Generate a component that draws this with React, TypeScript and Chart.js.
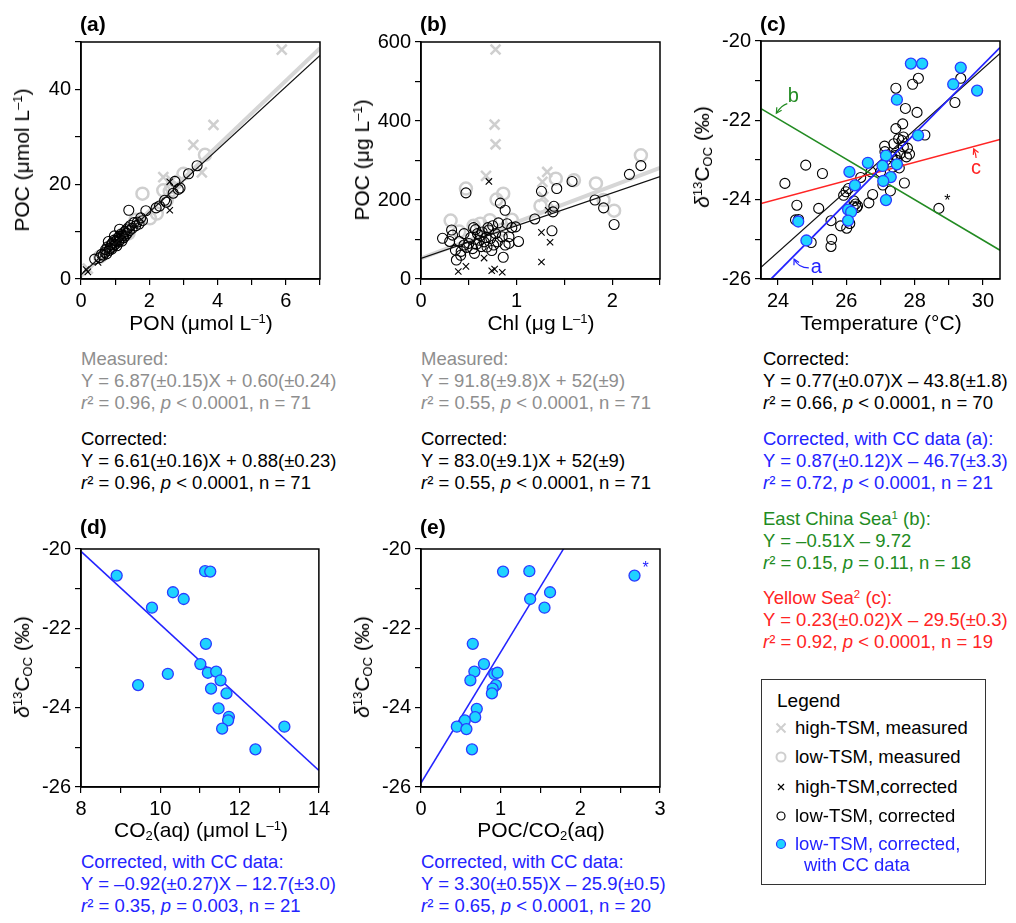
import React, { useEffect, useRef } from "react";
import { Chart, registerables } from "chart.js";
Chart.register(...registerables);

const FONT = '"Liberation Sans", Arial, Helvetica, sans-serif';

// ---------- DATA ----------
type P = [number, number];

// (a) PON vs POC
const aHighMeasured: P[] = [[5.88, 48.4], [3.88, 32.5], [3.29, 28.3], [3.54, 22.5], [2.41, 21.5], [0.2, 2.2], [2.65, 20.8]];
const aLowMeasured: P[] = [[1.8, 18.0], [3.63, 26.2], [2.41, 18.7], [2.8, 20.4], [2.22, 13.8], [2.02, 12.8], [2.51, 16.6], [1.39, 9.6], [1.05, 8.2], [0.56, 4.7], [3.0, 22.2], [1.6, 12.5], [1.2, 9.3], [0.85, 6.6], [2.6, 18.5], [2.65, 19.4]];
const aHighCorrected: P[] = [[2.6, 20.5], [2.6, 14.5], [0.2, 1.5], [0.5, 3.5], [0.15, 2.0], [1.0, 7.5], [1.1, 9.5]];
const aLowCorrected: P[] = [[0.4, 4.2], [0.55, 4.5], [0.6, 5.2], [0.65, 5.0], [0.7, 5.6], [0.72, 6.2], [0.75, 5.3], [0.78, 6.8], [0.8, 7.9], [0.82, 6.0], [0.85, 6.5], [0.88, 7.2], [0.9, 6.3], [0.92, 7.6], [0.95, 6.9], [0.97, 8.2], [1.0, 7.3], [1.02, 8.0], [1.05, 7.0], [1.08, 8.6], [1.1, 7.8], [1.12, 9.0], [1.15, 8.3], [1.18, 9.5], [1.2, 8.0], [1.22, 9.2], [1.25, 8.7], [1.28, 10.0], [1.3, 9.1], [1.33, 10.4], [1.35, 9.6], [1.38, 10.8], [1.4, 14.5], [1.42, 10.2], [1.45, 11.3], [1.5, 10.7], [1.55, 11.9], [1.6, 11.2], [1.65, 12.0], [1.7, 11.6], [1.75, 12.9], [1.8, 12.3], [1.9, 14.4], [2.2, 15.0], [2.3, 15.4], [2.45, 16.6], [2.5, 16.2], [2.7, 18.1], [2.75, 20.6], [2.85, 18.9], [2.9, 19.2], [3.15, 22.2], [3.4, 23.9], [1.13, 10.5], [0.98, 9.1]];
const aFitMeasured = { slope: 6.87, intercept: 0.6 };
const aFitCorrected = { slope: 6.61, intercept: 0.88 };
const aXTicks = [0, 1, 2, 3, 4, 5, 6, 7];
const aXLabels = [0, 2, 4, 6];
const aYTicks = [0, 10, 20, 30, 40, 50];
const aYLabels = [0, 20, 40];

// (b) Chl vs POC
const bHighMeasured: P[] = [[0.78, 581], [0.77, 391], [0.78, 341], [0.68, 261], [1.32, 271], [1.27, 246], [1.4, 179], [1.28, 208]];
const bLowMeasured: P[] = [[0.31, 148], [0.47, 229], [0.86, 216], [1.41, 254], [1.6, 250], [1.83, 242], [2.3, 313], [2.02, 173], [1.91, 200], [0.79, 201], [0.72, 149], [0.55, 135], [0.62, 140], [0.95, 150], [1.25, 185], [0.4, 120], [0.85, 125]];
const bHighCorrected: P[] = [[0.39, 19], [0.47, 32], [0.71, 247], [0.74, 21], [0.77, 25], [0.85, 17], [0.66, 53], [1.26, 43], [1.26, 118], [1.35, 93], [1.33, 174]];
const bLowCorrected: P[] = [[0.47, 218], [0.83, 192], [0.88, 174], [1.19, 152], [1.26, 222], [1.42, 229], [1.58, 247], [2.18, 265], [2.3, 287], [1.82, 200], [1.91, 180], [2.02, 138], [1.37, 122], [1.39, 184], [1.38, 170], [0.99, 132], [1.02, 95], [0.86, 55], [0.32, 124], [0.33, 111], [0.225, 103], [0.45, 115], [0.57, 125], [0.59, 115], [0.64, 119], [0.71, 124], [0.81, 142], [0.85, 107], [0.9, 140], [0.92, 107], [0.36, 73], [0.37, 48], [0.415, 60], [0.45, 86], [0.5, 90], [0.54, 77], [0.61, 98], [0.66, 94], [0.69, 81], [0.73, 103], [0.76, 86], [0.8, 94], [0.88, 86], [0.4, 95], [0.52, 105], [0.55, 130], [0.62, 110], [0.68, 105], [0.74, 72], [0.78, 115], [0.92, 90], [0.95, 130], [0.42, 70], [0.56, 65], [0.63, 82], [0.7, 130], [0.3, 95], [0.48, 80], [0.58, 88], [0.75, 135]];
const bFitMeasured = { slope: 91.8, intercept: 52 };
const bFitCorrected = { slope: 83.0, intercept: 52 };
const bXTicks = [0, 0.5, 1, 1.5, 2, 2.5];
const bXLabels = [0, 1, 2];
const bYTicks = [0, 100, 200, 300, 400, 500, 600];
const bYLabels = [0, 200, 400, 600];

// (c) Temperature vs d13C
const cLowCorrected: P[] = [[24.2, -23.59], [24.81, -23.13], [25.3, -23.34], [24.55, -24.14], [24.51, -24.51], [25.19, -24.22], [24.97, -25.08], [25.57, -25.0], [25.55, -25.18], [25.55, -24.53], [25.83, -24.66], [26.01, -24.72], [25.99, -23.8], [25.92, -23.89], [26.06, -23.72], [26.22, -24.03], [26.27, -24.11], [26.33, -24.16], [26.2, -24.18], [26.42, -23.44], [26.66, -24.08], [26.77, -23.87], [26.72, -23.3], [27.12, -22.65], [27.13, -22.79], [27.07, -23.63], [27.29, -23.78], [27.34, -22.92], [27.43, -22.89], [27.45, -22.21], [27.39, -22.59], [27.53, -22.47], [27.63, -22.51], [27.67, -22.67], [27.67, -22.42], [27.76, -22.92], [27.79, -22.7], [27.45, -21.19], [27.73, -21.7], [27.65, -22.09], [27.7, -23.58], [27.94, -21.09], [28.11, -20.94], [28.07, -21.8], [28.3, -22.37], [27.36, -23.18], [27.48, -23.01], [27.58, -22.84], [28.71, -24.22], [29.18, -21.55], [29.35, -20.94], [27.25, -23.05], [27.55, -23.2], [26.1, -24.6], [26.3, -24.2], [24.6, -24.5], [27.0, -23.3], [27.85, -22.85]];
const cCC: P[] = [[27.89, -20.57], [28.22, -20.57], [29.35, -20.67], [29.13, -21.09], [29.83, -21.25], [27.48, -21.48], [28.1, -22.38], [27.16, -22.89], [26.63, -23.07], [27.06, -23.15], [27.48, -23.11], [26.09, -23.3], [27.3, -23.43], [27.08, -23.53], [26.25, -23.64], [27.16, -24.01], [26.05, -24.25], [26.14, -24.31], [26.05, -24.53], [24.59, -24.55], [24.83, -25.03]];
const cFitCorrected = { slope: 0.77, intercept: -43.8 };
const cFitCC = { slope: 0.87, intercept: -46.7 };
const cFitECS = { slope: -0.51, intercept: -9.72 };
const cFitYS = { slope: 0.23, intercept: -29.5 };
const cXTicks = [24, 25, 26, 27, 28, 29, 30];
const cXLabels = [24, 26, 28, 30];
const dYTicks = [-26, -25, -24, -23, -22, -21, -20];
const dYLabels = [-26, -24, -22, -20];

// (d) CO2(aq) vs d13C
const dCC: P[] = [[8.9, -20.67], [11.13, -20.56], [11.26, -20.57], [10.32, -21.09], [10.59, -21.26], [9.79, -21.48], [11.15, -22.39], [11.01, -22.9], [10.19, -23.15], [11.2, -23.12], [11.41, -23.09], [11.52, -23.31], [11.28, -23.52], [9.44, -23.43], [11.67, -23.64], [11.47, -24.02], [11.73, -24.23], [11.71, -24.32], [11.56, -24.53], [13.13, -24.48], [12.4, -25.05]];
const dFit = { slope: -0.92, intercept: -12.7 };
const dXTicks = [8, 9, 10, 11, 12, 13, 14];
const dXLabels = [8, 10, 12, 14];

// (e) POC/CO2(aq) vs d13C
const eCC: P[] = [[1.03, -20.57], [1.36, -20.56], [2.68, -20.67], [1.62, -21.09], [1.37, -21.26], [1.55, -21.48], [0.65, -22.39], [0.79, -22.9], [0.67, -23.09], [0.62, -23.31], [0.92, -23.15], [0.96, -23.12], [0.94, -23.43], [0.9, -23.52], [0.89, -23.64], [0.7, -24.03], [0.68, -24.24], [0.55, -24.32], [0.45, -24.48], [0.57, -24.54], [0.64, -25.05]];
const eFit = { slope: 3.3, intercept: -25.9 };
const eXTicks = [0, 0.5, 1, 1.5, 2, 2.5, 3];
const eXLabels = [0, 1, 2, 3];

// ---------- STYLES ----------
const GRAY_MK = "#cfcfcf";
const GRAY_TXT = "#8e8e8e";
const BLUE = "#2323ff";
const CYAN = "#1ed3ff";
const GREEN = "#228b22";
const RED = "#ff2424";

const PADL = 75, PADT = 15, PADR = 14, PADB = 45, PW = 239;

const xy = (arr: P[]) => arr.map(([x, y]) => ({ x, y }));
const fitLine = (f: { slope: number; intercept: number }, x0: number, x1: number) => [
  { x: x0, y: f.slope * x0 + f.intercept },
  { x: x1, y: f.slope * x1 + f.intercept },
];

const grayX = (d: P[]) => ({ data: xy(d), pointStyle: "crossRot", pointRadius: 7, pointBorderWidth: 2.5, pointBorderColor: GRAY_MK, borderColor: GRAY_MK, pointBackgroundColor: "rgba(0,0,0,0)", showLine: false, order: 10 });
const grayO = (d: P[]) => ({ data: xy(d), pointStyle: "circle", pointRadius: 6, pointBorderWidth: 2.5, pointBorderColor: GRAY_MK, borderColor: GRAY_MK, pointBackgroundColor: "rgba(0,0,0,0)", showLine: false, order: 10 });
const blackX = (d: P[]) => ({ data: xy(d), pointStyle: "crossRot", pointRadius: 4.5, pointBorderWidth: 1.1, pointBorderColor: "#000", borderColor: "#000", pointBackgroundColor: "rgba(0,0,0,0)", showLine: false, order: 3 });
const blackO = (d: P[]) => ({ data: xy(d), pointStyle: "circle", pointRadius: 5, pointBorderWidth: 1.1, pointBorderColor: "#000", borderColor: "#000", pointBackgroundColor: "rgba(0,0,0,0)", showLine: false, order: 3 });
const cyanO = (d: P[]) => ({ data: xy(d), pointStyle: "circle", pointRadius: 5.5, pointBorderWidth: 1.3, pointBorderColor: "#2a3cff", borderColor: "#2a3cff", pointBackgroundColor: CYAN, backgroundColor: CYAN, showLine: false, order: 0 });
const line = (pts: { x: number; y: number }[], color: string, width: number, order: number) => ({ data: pts, showLine: true, pointRadius: 0, borderColor: color, borderWidth: width, order, fill: false });

const annotPlugin = {
  id: "annot",
  afterDatasetsDraw(chart: any, _args: any, opts: any) {
    const items = (opts && opts.items) || [];
    const { ctx } = chart;
    const xs = chart.scales.x, ys = chart.scales.y;
    ctx.save();
    for (const it of items) {
      if (it.kind === "text") {
        ctx.fillStyle = it.color;
        ctx.font = `${it.size}px ${FONT}`;
        ctx.textAlign = "center";
        ctx.textBaseline = "middle";
        ctx.fillText(it.text, xs.getPixelForValue(it.x), ys.getPixelForValue(it.y));
      } else if (it.kind === "arrow") {
        const p = it.pts.map(([a, b]: P) => [xs.getPixelForValue(a), ys.getPixelForValue(b)]);
        ctx.strokeStyle = it.color;
        ctx.lineWidth = 1.2;
        ctx.beginPath();
        ctx.moveTo(p[0][0], p[0][1]);
        ctx.quadraticCurveTo(p[1][0], p[1][1], p[2][0], p[2][1]);
        ctx.stroke();
        const ang = Math.atan2(p[2][1] - p[1][1], p[2][0] - p[1][0]);
        const L = 6;
        ctx.beginPath();
        ctx.moveTo(p[2][0] - L * Math.cos(ang - 0.5), p[2][1] - L * Math.sin(ang - 0.5));
        ctx.lineTo(p[2][0], p[2][1]);
        ctx.lineTo(p[2][0] - L * Math.cos(ang + 0.5), p[2][1] - L * Math.sin(ang + 0.5));
        ctx.stroke();
      }
    }
    ctx.restore();
  },
};

const framePlugin = {
  id: "frame",
  afterDraw(chart: any) {
    const { ctx, chartArea: a } = chart;
    ctx.save();
    ctx.strokeStyle = "#000";
    ctx.lineWidth = 1.5;
    ctx.strokeRect(a.left, a.top, a.right - a.left, a.bottom - a.top);
    ctx.restore();
  },
};

function axis(min: number, max: number, tickVals: number[], labelVals: number[], isX: boolean) {
  return {
    type: "linear",
    position: isX ? "bottom" : "left",
    min,
    max,
    afterBuildTicks: (s: any) => {
      s.ticks = tickVals.map((v) => ({ value: v }));
    },
    ticks: {
      autoSkip: false,
      maxRotation: 0,
      color: "#000",
      padding: 4,
      font: { family: FONT, size: 20 },
      callback: (v: number) => (labelVals.some((l) => Math.abs(l - v) < 1e-9) ? String(v) : ""),
    },
    grid: { display: true, drawOnChartArea: false, drawTicks: true, tickLength: 6, color: "#000", lineWidth: 1.2 },
    border: { display: true, color: "#000", width: 1.5 },
    afterFit: (s: any) => {
      if (isX) s.height = PADB;
      else s.width = PADL;
    },
  };
}

type PanelCfg = {
  left: number; top: number; h: number;
  x: [number, number, number[], number[]];
  y: [number, number, number[], number[]];
  datasets: any[];
  annots?: any[];
};

function Panel({ cfg }: { cfg: PanelCfg }) {
  const ref = useRef<HTMLCanvasElement>(null);
  const CW = PADL + PW + PADR;
  const CH = PADT + cfg.h + PADB;
  useEffect(() => {
    const chart = new Chart(ref.current as HTMLCanvasElement, {
      type: "scatter",
      data: { datasets: cfg.datasets },
      options: {
        responsive: false,
        animation: false,
        events: [],
        layout: { padding: { top: PADT, right: PADR, left: 0, bottom: 0 } },
        plugins: { legend: { display: false }, tooltip: { enabled: false }, annot: { items: cfg.annots || [] } },
        scales: {
          x: axis(cfg.x[0], cfg.x[1], cfg.x[2], cfg.x[3], true),
          y: axis(cfg.y[0], cfg.y[1], cfg.y[2], cfg.y[3], false),
        },
      } as any,
      plugins: [annotPlugin, framePlugin],
    } as any);
    return () => chart.destroy();
  }, []);
  return (
    <canvas
      ref={ref}
      width={CW}
      height={CH}
      style={{ position: "absolute", left: cfg.left - 8 - PADL, top: cfg.top - 8 - PADT, width: CW, height: CH }}
    />
  );
}

const panels: PanelCfg[] = [
  {
    left: 81, top: 41, h: 238,
    x: [0, 7, aXTicks, aXLabels], y: [0, 50, aYTicks, aYLabels],
    datasets: [
      grayX(aHighMeasured), grayO(aLowMeasured),
      line(fitLine(aFitMeasured, 0, 7), "#d6d6d6", 4, 8),
      blackX(aHighCorrected), blackO(aLowCorrected),
      line(fitLine(aFitCorrected, 0, 7), "#111", 1.2, 1),
    ],
  },
  {
    left: 421, top: 41, h: 238,
    x: [0, 2.5, bXTicks, bXLabels], y: [0, 600, bYTicks, bYLabels],
    datasets: [
      grayX(bHighMeasured), grayO(bLowMeasured),
      line(fitLine(bFitMeasured, 0, 2.5), "#d6d6d6", 4, 8),
      blackX(bHighCorrected), blackO(bLowCorrected),
      line(fitLine(bFitCorrected, 0, 2.5), "#111", 1.2, 1),
    ],
  },
  {
    left: 761, top: 40, h: 239,
    x: [23.5, 30.5, cXTicks, cXLabels], y: [-26, -20, dYTicks, dYLabels],
    datasets: [
      blackO(cLowCorrected),
      line(fitLine(cFitECS, 23.5, 30.5), GREEN, 1.5, 2),
      line(fitLine(cFitYS, 23.5, 30.5), RED, 1.5, 2),
      line(fitLine(cFitCorrected, 23.5, 30.5), "#111", 1.2, 2),
      line(fitLine(cFitCC, 23.5, 30.5), BLUE, 1.8, 1),
      cyanO(cCC),
    ],
    annots: [
      { kind: "text", text: "b", x: 24.45, y: -21.4, color: GREEN, size: 20 },
      { kind: "arrow", pts: [[24.27, -21.58], [24.1, -21.62], [23.95, -21.82]], color: GREEN },
      { kind: "text", text: "c", x: 29.8, y: -23.22, color: RED, size: 20 },
      { kind: "arrow", pts: [[29.8, -22.95], [29.8, -22.85], [29.73, -22.72]], color: RED },
      { kind: "text", text: "a", x: 25.12, y: -25.72, color: BLUE, size: 20 },
      { kind: "arrow", pts: [[24.9, -25.72], [24.6, -25.72], [24.47, -25.5]], color: BLUE },
      { kind: "text", text: "*", x: 28.96, y: -24.06, color: "#000", size: 16 },
    ],
  },
  {
    left: 81, top: 548, h: 239,
    x: [8, 14, dXTicks, dXLabels], y: [-26, -20, dYTicks, dYLabels],
    datasets: [line(fitLine(dFit, 8, 14), BLUE, 1.5, 2), cyanO(dCC)],
  },
  {
    left: 421, top: 548, h: 239,
    x: [0, 3, eXTicks, eXLabels], y: [-26, -20, dYTicks, dYLabels],
    datasets: [line(fitLine(eFit, 0, 1.9), BLUE, 1.5, 2), cyanO(eCC)],
    annots: [{ kind: "text", text: "*", x: 2.82, y: -20.5, color: BLUE, size: 16 }],
  },
];

// ---------- HTML TEXT ----------
const Sup = ({ children }: any) => (
  <span style={{ fontSize: "0.62em", verticalAlign: "0.55em", lineHeight: 0 }}>{children}</span>
);
const Sub = ({ children }: any) => (
  <span style={{ fontSize: "0.62em", verticalAlign: "-0.2em", lineHeight: 0 }}>{children}</span>
);

const LH = 21.7;
function Block({ x, y, color, lines }: { x: number; y: number; color: string; lines: any[] }) {
  return (
    <div style={{ position: "absolute", left: x - 8, top: y - 8 - LH / 2, color, fontSize: 18.5, lineHeight: `${LH}px`, whiteSpace: "nowrap" }}>
      {lines.map((l, i) => (
        <div key={i}>{l}</div>
      ))}
    </div>
  );
}

function XTitle({ cx, cy, children }: any) {
  return (
    <div style={{ position: "absolute", left: cx - 8, top: cy - 8, transform: "translate(-50%, -50%)", fontSize: 21, whiteSpace: "nowrap", lineHeight: "24px" }}>
      {children}
    </div>
  );
}
function YTitle({ cx, cy, children }: any) {
  return (
    <div style={{ position: "absolute", left: cx - 8, top: cy - 8, transform: "translate(-50%, -50%) rotate(-90deg)", fontSize: 21, whiteSpace: "nowrap", lineHeight: "24px" }}>
      {children}
    </div>
  );
}
function PLabel({ x, cy, children }: any) {
  return (
    <div style={{ position: "absolute", left: x - 8, top: cy - 8 - 12, fontSize: 21, fontWeight: "bold", lineHeight: "24px" }}>{children}</div>
  );
}

const umol = <>μmol L<Sup>–1</Sup></>;
const d13 = <><i>δ</i><Sup>13</Sup>C<Sub>OC</Sub> (‰)</>;
const stats = (r: string, pRel: string, p: string, n: string) => (
  <><i>r</i>² = {r}, <i>p</i> {pRel} {p}, n = {n}</>
);

function LegendSym({ kind }: { kind: string }) {
  return (
    <svg width={14} height={14} style={{ position: "absolute", left: -7, top: -7 }}>
      {kind === "gx" && <path d="M2.5 2.5 L11.5 11.5 M11.5 2.5 L2.5 11.5" stroke={GRAY_MK} strokeWidth={2} />}
      {kind === "go" && <circle cx={7} cy={7} r={4.5} fill="none" stroke={GRAY_MK} strokeWidth={2} />}
      {kind === "bx" && <path d="M4 4 L10 10 M10 4 L4 10" stroke="#000" strokeWidth={1.2} />}
      {kind === "bo" && <circle cx={7} cy={7} r={4} fill="none" stroke="#000" strokeWidth={1.2} />}
      {kind === "cy" && <circle cx={7} cy={7} r={4.5} fill={CYAN} stroke="#2a3cff" strokeWidth={1.2} />}
    </svg>
  );
}

const legendItems = [
  { kind: "gx", text: "high-TSM, measured", color: "#000", y: 728 },
  { kind: "go", text: "low-TSM, measured", color: "#000", y: 757 },
  { kind: "bx", text: "high-TSM,corrected", color: "#000", y: 787 },
  { kind: "bo", text: "low-TSM, corrected", color: "#000", y: 816 },
  { kind: "cy", text: "low-TSM, corrected,", color: BLUE, y: 844 },
];

export default function App() {
  return (
    <div style={{ position: "relative", width: 1000, height: 907, overflow: "hidden", fontFamily: FONT, color: "#000", background: "#fff" }}>
      {panels.map((p, i) => (
        <Panel key={i} cfg={p} />
      ))}

      <PLabel x={80} cy={24}>(a)</PLabel>
      <PLabel x={420} cy={24}>(b)</PLabel>
      <PLabel x={760} cy={24}>(c)</PLabel>
      <PLabel x={80} cy={527}>(d)</PLabel>
      <PLabel x={420} cy={527}>(e)</PLabel>

      <XTitle cx={201} cy={323}>PON ({umol})</XTitle>
      <YTitle cx={22} cy={160}>POC ({umol})</YTitle>
      <XTitle cx={541} cy={323}>Chl (μg L<Sup>–1</Sup>)</XTitle>
      <YTitle cx={362} cy={160}>POC (μg L<Sup>–1</Sup>)</YTitle>
      <XTitle cx={881} cy={323}>Temperature (°C)</XTitle>
      <YTitle cx={702} cy={157}>{d13}</YTitle>
      <XTitle cx={201} cy={830}>CO<Sub>2</Sub>(aq) ({umol})</XTitle>
      <YTitle cx={22} cy={667}>{d13}</YTitle>
      <XTitle cx={541} cy={830}>POC/CO<Sub>2</Sub>(aq)</XTitle>
      <YTitle cx={362} cy={667}>{d13}</YTitle>

      <Block x={81} y={359} color={GRAY_TXT} lines={["Measured:", "Y = 6.87(±0.15)X + 0.60(±0.24)", stats("0.96", "<", "0.0001", "71")]} />
      <Block x={81} y={439} color="#000" lines={["Corrected:", "Y = 6.61(±0.16)X + 0.88(±0.23)", stats("0.96", "<", "0.0001", "71")]} />
      <Block x={421} y={359} color={GRAY_TXT} lines={["Measured:", "Y = 91.8(±9.8)X + 52(±9)", stats("0.55", "<", "0.0001", "71")]} />
      <Block x={421} y={439} color="#000" lines={["Corrected:", "Y = 83.0(±9.1)X + 52(±9)", stats("0.55", "<", "0.0001", "71")]} />
      <Block x={763} y={359} color="#000" lines={["Corrected:", "Y = 0.77(±0.07)X – 43.8(±1.8)", stats("0.66", "<", "0.0001", "70")]} />
      <Block x={763} y={439} color={BLUE} lines={["Corrected, with CC data (a):", "Y = 0.87(±0.12)X – 46.7(±3.3)", stats("0.72", "<", "0.0001", "21")]} />
      <Block x={763} y={519} color={GREEN} lines={[<>East China Sea<Sup>1</Sup> (b):</>, "Y = –0.51X – 9.72", stats("0.15", "=", "0.11", "18")]} />
      <Block x={763} y={598} color={RED} lines={[<>Yellow Sea<Sup>2</Sup> (c):</>, "Y = 0.23(±0.02)X – 29.5(±0.3)", stats("0.92", "<", "0.0001", "19")]} />
      <Block x={81} y={862} color={BLUE} lines={["Corrected, with CC data:", "Y = –0.92(±0.27)X – 12.7(±3.0)", stats("0.35", "=", "0.003", "21")]} />
      <Block x={421} y={862} color={BLUE} lines={["Corrected, with CC data:", "Y = 3.30(±0.55)X – 25.9(±0.5)", stats("0.65", "<", "0.0001", "20")]} />

      <div style={{ position: "absolute", left: 761 - 8, top: 679 - 8, width: 225, height: 206, border: "1.5px solid #333", boxSizing: "border-box" }} />
      <div style={{ position: "absolute", left: 777 - 8, top: 701 - 8 - 12, fontSize: 19, lineHeight: "24px" }}>Legend</div>
      {legendItems.map((it, i) => (
        <div key={i} style={{ position: "absolute", left: 781 - 8, top: it.y - 8 }}>
          <LegendSym kind={it.kind} />
          <div style={{ position: "absolute", left: 14, top: -11, fontSize: 18.5, lineHeight: "22px", whiteSpace: "nowrap", color: it.color }}>{it.text}</div>
        </div>
      ))}
      <div style={{ position: "absolute", left: 804 - 8, top: 865 - 8 - 11, fontSize: 18.5, lineHeight: "22px", whiteSpace: "nowrap", color: BLUE }}>with CC data</div>
    </div>
  );
}
